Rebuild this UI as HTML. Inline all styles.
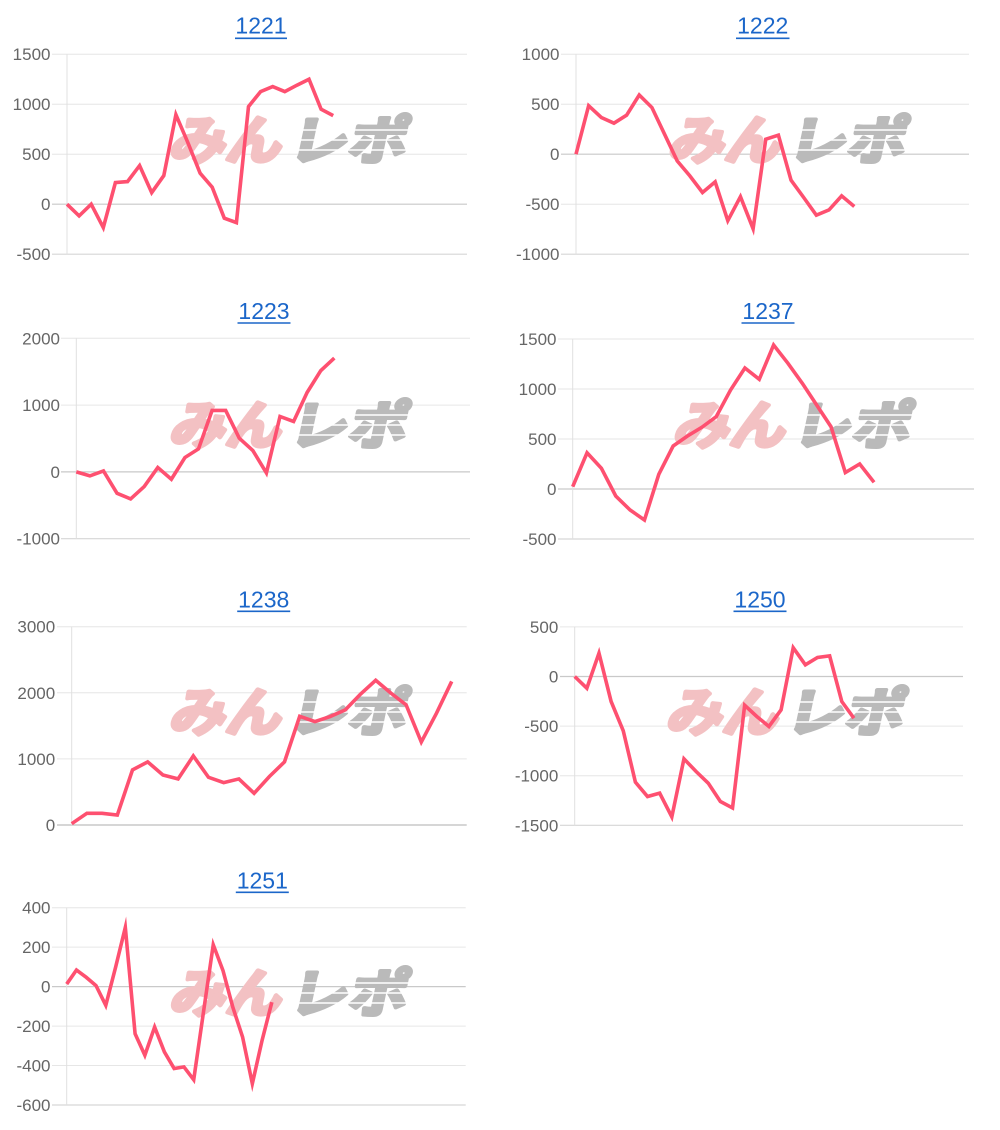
<!DOCTYPE html>
<html><head><meta charset="utf-8">
<style>
html,body{margin:0;padding:0;background:#fff;}
svg{display:block;}
.yl{font-family:"Liberation Sans",sans-serif;font-size:17px;fill:#666;text-anchor:end;}
.tt{font-family:"Liberation Sans",sans-serif;font-size:23px;fill:#1b66c9;text-anchor:middle;}
.g{stroke:#e6e6e6;stroke-width:1;}
.z{stroke:#c9c9c9;stroke-width:1.2;}
.b{stroke:#d6d6d6;stroke-width:1.2;}
.ax{stroke:#e0e0e0;stroke-width:1;}
.ln{fill:none;stroke:#fe5070;stroke-width:3.6;stroke-linejoin:miter;stroke-miterlimit:10;vector-effect:non-scaling-stroke;}
.wp{font-family:"Liberation Sans","Noto Sans CJK JP",sans-serif;font-size:52px;font-weight:bold;fill:#f3c1c3;stroke:#f3c1c3;stroke-width:4;stroke-linejoin:round;}
.wg{font-family:"Liberation Sans","Noto Sans CJK JP",sans-serif;font-size:52px;font-weight:bold;fill:#bababa;stroke:#bababa;stroke-width:4;stroke-linejoin:round;}
.ws{stroke:#fff;stroke-width:1.6;}
.ul{stroke:#1b66c9;stroke-width:1.6;}
</style></head>
<body>
<svg width="1000" height="1130" viewBox="0 0 1000 1130" xmlns="http://www.w3.org/2000/svg">

<!-- ============ Chart 1: 1221 ============ -->
<text class="tt" x="261" y="33.5">1221</text>
<line class="ul" x1="235" y1="38.3" x2="287" y2="38.3"/>
<line class="g" x1="52" y1="54.2" x2="467" y2="54.2"/>
<line class="g" x1="52" y1="104.2" x2="467" y2="104.2"/>
<line class="g" x1="52" y1="154.2" x2="467" y2="154.2"/>
<line class="z" x1="52" y1="204.2" x2="467" y2="204.2"/>
<line class="b" x1="52" y1="254.2" x2="467" y2="254.2"/>
<line class="ax" x1="67" y1="54.2" x2="67" y2="254.2"/>
<text class="yl" x="50.5" y="60.2">1500</text>
<text class="yl" x="50.5" y="110.2">1000</text>
<text class="yl" x="50.5" y="160.2">500</text>
<text class="yl" x="50.5" y="210.2">0</text>
<text class="yl" x="50.5" y="260.2">-500</text>
<g transform="translate(168,118)">
<text class="wp" x="9" y="41" transform="skewX(-12)" textLength="112" lengthAdjust="spacingAndGlyphs">みん</text>
<text class="wg" x="128" y="41" transform="skewX(-12)" textLength="118" lengthAdjust="spacingAndGlyphs">レポ</text>
<line class="ws" x1="118" y1="12" x2="245" y2="12"/><line class="ws" x1="118" y1="22" x2="245" y2="22"/><line class="ws" x1="118" y1="32" x2="245" y2="32"/>
</g>
<polyline class="ln" transform="matrix(12.1,0,0,-0.1,67,204.2)" points="0,0 1,-117 2,0 3,-234 4,216 5,226 6,386 7,116 8,286 9,895 10,613 11,310 12,170 13,-140 14,-184 15,976 16,1126 17,1176 18,1126 19,1190 20,1250 21,950 22,886"/>

<!-- ============ Chart 2: 1222 ============ -->
<text class="tt" x="762.7" y="33.5">1222</text>
<line class="ul" x1="736" y1="38.3" x2="789.5" y2="38.3"/>
<line class="g" x1="561" y1="54.2" x2="969" y2="54.2"/>
<line class="g" x1="561" y1="104.2" x2="969" y2="104.2"/>
<line class="z" x1="561" y1="154.2" x2="969" y2="154.2"/>
<line class="g" x1="561" y1="204.2" x2="969" y2="204.2"/>
<line class="b" x1="561" y1="254.2" x2="969" y2="254.2"/>
<line class="ax" x1="576" y1="54.2" x2="576" y2="254.2"/>
<text class="yl" x="559.5" y="60.2">1000</text>
<text class="yl" x="559.5" y="110.2">500</text>
<text class="yl" x="559.5" y="160.2">0</text>
<text class="yl" x="559.5" y="210.2">-500</text>
<text class="yl" x="559.5" y="260.2">-1000</text>
<g transform="translate(667,118)">
<text class="wp" x="9" y="41" transform="skewX(-12)" textLength="112" lengthAdjust="spacingAndGlyphs">みん</text>
<text class="wg" x="128" y="41" transform="skewX(-12)" textLength="118" lengthAdjust="spacingAndGlyphs">レポ</text>
<line class="ws" x1="118" y1="12" x2="245" y2="12"/><line class="ws" x1="118" y1="22" x2="245" y2="22"/><line class="ws" x1="118" y1="32" x2="245" y2="32"/>
</g>
<polyline class="ln" transform="matrix(12.65,0,0,-0.1,576,154.2)" points="0,0 1,485 2,367 3,310 4,390 5,592 6,467 7,200 8,-67 9,-217 10,-383 11,-277 12,-665 13,-425 14,-745 15,150 16,190 17,-260 18,-433 19,-610 20,-557 21,-417 22,-523"/>

<!-- ============ Chart 3: 1223 ============ -->
<text class="tt" x="264" y="319">1223</text>
<line class="ul" x1="237.5" y1="323" x2="290.5" y2="323"/>
<line class="g" x1="61" y1="338.3" x2="470" y2="338.3"/>
<line class="g" x1="61" y1="405.1" x2="470" y2="405.1"/>
<line class="z" x1="61" y1="471.9" x2="470" y2="471.9"/>
<line class="b" x1="61" y1="538.7" x2="470" y2="538.7"/>
<line class="ax" x1="76.3" y1="338.3" x2="76.3" y2="538.7"/>
<text class="yl" x="60" y="344.3">2000</text>
<text class="yl" x="60" y="411.1">1000</text>
<text class="yl" x="60" y="477.9">0</text>
<text class="yl" x="60" y="544.7">-1000</text>
<g transform="translate(168,403)">
<text class="wp" x="9" y="41" transform="skewX(-12)" textLength="112" lengthAdjust="spacingAndGlyphs">みん</text>
<text class="wg" x="128" y="41" transform="skewX(-12)" textLength="118" lengthAdjust="spacingAndGlyphs">レポ</text>
<line class="ws" x1="118" y1="12" x2="245" y2="12"/><line class="ws" x1="118" y1="22" x2="245" y2="22"/><line class="ws" x1="118" y1="32" x2="245" y2="32"/>
</g>
<polyline class="ln" transform="matrix(13.58,0,0,-0.0668,76.3,471.9)" points="0,0 1,-60 2,15 3,-320 4,-405 5,-220 6,65 7,-110 8,215 9,345 10,920 11,920 12,505 13,320 14,-15 15,830 16,755 17,1190 18,1515 19,1705"/>

<!-- ============ Chart 4: 1237 ============ -->
<text class="tt" x="768" y="319">1237</text>
<line class="ul" x1="741.5" y1="323" x2="794.5" y2="323"/>
<line class="g" x1="558" y1="339" x2="974" y2="339"/>
<line class="g" x1="558" y1="389" x2="974" y2="389"/>
<line class="g" x1="558" y1="439" x2="974" y2="439"/>
<line class="z" x1="558" y1="489" x2="974" y2="489"/>
<line class="b" x1="558" y1="539" x2="974" y2="539"/>
<line class="ax" x1="572.7" y1="339" x2="572.7" y2="539"/>
<text class="yl" x="556.5" y="345">1500</text>
<text class="yl" x="556.5" y="395">1000</text>
<text class="yl" x="556.5" y="445">500</text>
<text class="yl" x="556.5" y="495">0</text>
<text class="yl" x="556.5" y="545">-500</text>
<g transform="translate(672,403)">
<text class="wp" x="9" y="41" transform="skewX(-12)" textLength="112" lengthAdjust="spacingAndGlyphs">みん</text>
<text class="wg" x="128" y="41" transform="skewX(-12)" textLength="118" lengthAdjust="spacingAndGlyphs">レポ</text>
<line class="ws" x1="118" y1="12" x2="245" y2="12"/><line class="ws" x1="118" y1="22" x2="245" y2="22"/><line class="ws" x1="118" y1="32" x2="245" y2="32"/>
</g>
<polyline class="ln" transform="matrix(14.35,0,0,-0.1,572.7,489)" points="0,23 1,362 2,207 3,-70 4,-210 5,-310 6,147 7,430 8,530 9,617 10,723 11,990 12,1210 13,1097 14,1440 15,1257 16,1057 17,840 18,623 19,165 20,250 21,67"/>

<!-- ============ Chart 5: 1238 ============ -->
<text class="tt" x="263.7" y="607.5">1238</text>
<line class="ul" x1="237.2" y1="611.3" x2="290.2" y2="611.3"/>
<line class="g" x1="57" y1="626.7" x2="466.7" y2="626.7"/>
<line class="g" x1="57" y1="692.8" x2="466.7" y2="692.8"/>
<line class="g" x1="57" y1="758.9" x2="466.7" y2="758.9"/>
<line class="z" x1="57" y1="825" x2="466.7" y2="825" style="stroke:#bdbdbd"/>
<line class="ax" x1="71.7" y1="626.7" x2="71.7" y2="825"/>
<text class="yl" x="55.2" y="632.7">3000</text>
<text class="yl" x="55.2" y="698.8">2000</text>
<text class="yl" x="55.2" y="764.9">1000</text>
<text class="yl" x="55.2" y="831">0</text>
<g transform="translate(168,690)">
<text class="wp" x="9" y="41" transform="skewX(-12)" textLength="112" lengthAdjust="spacingAndGlyphs">みん</text>
<text class="wg" x="128" y="41" transform="skewX(-12)" textLength="118" lengthAdjust="spacingAndGlyphs">レポ</text>
<line class="ws" x1="118" y1="12" x2="245" y2="12"/><line class="ws" x1="118" y1="22" x2="245" y2="22"/><line class="ws" x1="118" y1="32" x2="245" y2="32"/>
</g>
<polyline class="ln" transform="matrix(15.2,0,0,-0.0661,71.7,825)" points="0,20 1,177 2,177 3,150 4,833 5,955 6,757 7,697 8,1045 9,722 10,641 11,697 12,480 13,732 14,955 15,1645 16,1565 17,1641 18,1742 19,1980 20,2190 21,1995 22,1818 23,1255 24,1692 25,2172"/>

<!-- ============ Chart 6: 1250 ============ -->
<text class="tt" x="760" y="607.5">1250</text>
<line class="ul" x1="733.5" y1="611.3" x2="786.5" y2="611.3"/>
<line class="g" x1="560" y1="626.9" x2="963" y2="626.9"/>
<line class="z" x1="560" y1="676.5" x2="963" y2="676.5"/>
<line class="g" x1="560" y1="726.1" x2="963" y2="726.1"/>
<line class="g" x1="560" y1="775.7" x2="963" y2="775.7"/>
<line class="b" x1="560" y1="825.3" x2="963" y2="825.3"/>
<line class="ax" x1="574.7" y1="626.9" x2="574.7" y2="825.3"/>
<text class="yl" x="558.3" y="632.9">500</text>
<text class="yl" x="558.3" y="682.5">0</text>
<text class="yl" x="558.3" y="732.1">-500</text>
<text class="yl" x="558.3" y="781.7">-1000</text>
<text class="yl" x="558.3" y="831.3">-1500</text>
<g transform="translate(665,690)">
<text class="wp" x="9" y="41" transform="skewX(-12)" textLength="112" lengthAdjust="spacingAndGlyphs">みん</text>
<text class="wg" x="128" y="41" transform="skewX(-12)" textLength="118" lengthAdjust="spacingAndGlyphs">レポ</text>
<line class="ws" x1="118" y1="12" x2="245" y2="12"/><line class="ws" x1="118" y1="22" x2="245" y2="22"/><line class="ws" x1="118" y1="32" x2="245" y2="32"/>
</g>
<polyline class="ln" transform="matrix(12.14,0,0,-0.0992,574.7,676.5)" points="0,0 1,-118 2,235 3,-252 4,-548 5,-1065 6,-1210 7,-1176 8,-1415 9,-830 10,-958 11,-1075 12,-1260 13,-1325 14,-290 15,-403 16,-504 17,-336 18,290 19,118 20,192 21,208 22,-252 23,-420"/>

<!-- ============ Chart 7: 1251 ============ -->
<text class="tt" x="262.3" y="888.5">1251</text>
<line class="ul" x1="235.8" y1="892.3" x2="288.8" y2="892.3"/>
<line class="g" x1="52" y1="907.7" x2="465.7" y2="907.7"/>
<line class="g" x1="52" y1="947.1" x2="465.7" y2="947.1"/>
<line class="z" x1="52" y1="986.6" x2="465.7" y2="986.6"/>
<line class="g" x1="52" y1="1026.1" x2="465.7" y2="1026.1"/>
<line class="g" x1="52" y1="1065.5" x2="465.7" y2="1065.5"/>
<line class="b" x1="52" y1="1105" x2="465.7" y2="1105"/>
<line class="ax" x1="66.7" y1="907.7" x2="66.7" y2="1105"/>
<text class="yl" x="50.5" y="913.7">400</text>
<text class="yl" x="50.5" y="953.1">200</text>
<text class="yl" x="50.5" y="992.6">0</text>
<text class="yl" x="50.5" y="1032.1">-200</text>
<text class="yl" x="50.5" y="1071.5">-400</text>
<text class="yl" x="50.5" y="1111">-600</text>
<g transform="translate(168,972)">
<text class="wp" x="9" y="40" transform="skewX(-12)" textLength="112" lengthAdjust="spacingAndGlyphs">みん</text>
<text class="wg" x="128" y="40" transform="skewX(-12)" textLength="118" lengthAdjust="spacingAndGlyphs">レポ</text>
<line class="ws" x1="118" y1="11" x2="245" y2="11"/><line class="ws" x1="118" y1="21" x2="245" y2="21"/><line class="ws" x1="118" y1="31" x2="245" y2="31"/>
</g>
<polyline class="ln" transform="matrix(9.77,0,0,-0.1973,66.7,986.6)" points="0,13 1,84 2,47 3,5 4,-95 5,97 6,300 7,-239 8,-348 9,-205 10,-331 11,-415 12,-407 13,-472 14,-129 15,212 16,81 17,-104 18,-255 19,-492 20,-272 21,-79"/>

</svg>
</body></html>
